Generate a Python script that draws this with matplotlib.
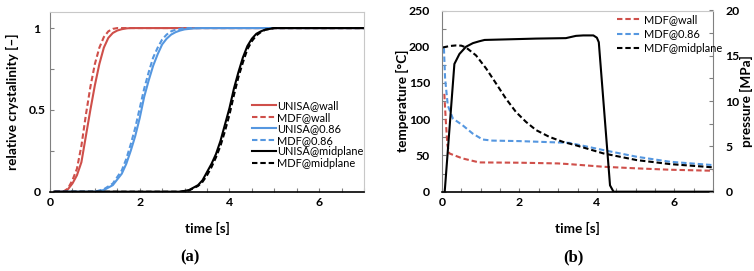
import matplotlib
matplotlib.use("Agg")
from matplotlib import pyplot as plt
from matplotlib.ticker import MultipleLocator

plt.rcParams['font.family'] = ['Lato', 'DejaVu Sans']

# ---- (a) relative crystallinity vs time ----
t_wall = [0.1, 0.3, 0.4, 0.5, 0.6, 0.7, 0.8, 0.9, 1.0, 1.1, 1.2, 1.3, 1.4, 1.5, 1.6, 1.7, 1.8, 7.0]
unisa_wall = [0, 0, 0.015, 0.05, 0.1, 0.18, 0.34, 0.50, 0.65, 0.78, 0.88, 0.94, 0.97, 0.985, 0.993, 0.998, 1.0, 1.0]
mdf_wall = [0, 0, 0.02, 0.07, 0.14, 0.28, 0.47, 0.64, 0.78, 0.88, 0.945, 0.98, 0.995, 1.0, 1.0, 1.0, 1.0, 1.0]

t_086 = [0.1, 1.0, 1.2, 1.4, 1.6, 1.7, 1.8, 1.9, 2.0, 2.1, 2.2, 2.3, 2.4, 2.5, 2.6, 2.7, 2.8, 2.9, 3.0, 3.2, 3.4, 7.0]
unisa_086 = [0, 0, 0.01, 0.04, 0.11, 0.17, 0.25, 0.34, 0.45, 0.58, 0.68, 0.77, 0.84, 0.90, 0.935, 0.96, 0.975, 0.985, 0.992, 0.998, 1.0, 1.0]
mdf_086 = [0, 0, 0.015, 0.05, 0.13, 0.20, 0.29, 0.39, 0.51, 0.63, 0.73, 0.82, 0.88, 0.93, 0.96, 0.98, 0.99, 0.995, 1.0, 1.0, 1.0, 1.0]

t_mid = [0.1, 2.9, 3.1, 3.3, 3.4, 3.5, 3.6, 3.7, 3.8, 3.9, 4.0, 4.1, 4.2, 4.3, 4.4, 4.5, 4.6, 4.7, 4.8, 5.0, 7.0]
unisa_mid = [0, 0, 0.01, 0.04, 0.07, 0.12, 0.17, 0.23, 0.31, 0.41, 0.51, 0.63, 0.73, 0.82, 0.89, 0.935, 0.965, 0.98, 0.99, 1.0, 1.0]
mdf_mid = [0, 0, 0.008, 0.035, 0.06, 0.10, 0.15, 0.21, 0.28, 0.37, 0.47, 0.59, 0.70, 0.79, 0.87, 0.92, 0.955, 0.975, 0.99, 1.0, 1.0]

# ---- (b) temperature [C] and pressure [MPa] vs time ----
t_T_wall = [0.06, 0.1, 0.14, 0.19, 0.53, 0.96, 2.0, 3.0, 3.3, 4.17, 5.03, 5.89, 7.0]
T_wall = [135, 96, 64, 52.8, 45.9, 40.4, 40, 39, 38, 34.4, 32.2, 30.3, 28.9]

t_T_086 = [0.05, 0.08, 0.15, 0.28, 0.53, 0.79, 1.05, 1.3, 2.0, 3.29, 4.17, 5.03, 5.89, 7.0]
T_086 = [198, 156, 119, 101, 91.8, 80.3, 72, 70.5, 69.8, 67.4, 57.4, 48.2, 41.3, 36.7]

t_T_mid = [0.02, 0.2, 0.36, 0.5, 0.62, 0.88, 1.14, 1.40, 1.65, 1.91, 2.17, 2.43, 2.77, 3.12, 3.46, 4.17, 5.03, 5.89, 7.0]
T_mid = [199, 201, 201.8, 201.5, 199, 188, 170, 149, 128.5, 110, 96.3, 85, 75.7, 68.8, 64, 52.8, 43.6, 38.1, 33.6]

t_p = [0.07, 0.32, 0.45, 0.62, 0.8, 0.96, 1.1, 2.0, 2.43, 3.2, 3.46, 3.65, 3.91, 4.0, 4.05, 4.34, 4.43, 7.0]
pressure = [0.0, 14.1, 15.2, 16.0, 16.4, 16.6, 16.75, 16.85, 16.9, 16.95, 17.2, 17.25, 17.25, 17.0, 16.5, 0.7, 0.0, 0.0]

red = '#cf4f4a'
blue = '#5597e0'
lw = 1.5
dash = (2.6, 1.4)
tick_fs = 8.8
label_fs = 9.8

fig = plt.figure(figsize=(7.54, 2.71), dpi=100)
W, H = 754, 271


def style(ax, spines_grey=('top', 'right')):
    for s in ax.spines.values():
        s.set_linewidth(0.8)
    ax.spines['left'].set_color('#808080')
    ax.spines['bottom'].set_color('black')
    ax.spines['bottom'].set_linewidth(1.2)
    for s in spines_grey:
        ax.spines[s].set_color('#c8c8c8')
    ax.tick_params(which='both', direction='in', length=3, width=0.8, color='#808080',
                   labelsize=tick_fs)
    for lab in ax.get_xticklabels() + ax.get_yticklabels():
        lab.set_fontweight('bold')


# panel (a)
ax1 = fig.add_axes([50 / W, 1 - 191.7 / H, 314 / W, 180 / H])
ax1.plot(t_wall, unisa_wall, color=red, lw=lw, label='UNISA@wall')
ax1.plot(t_wall, mdf_wall, color=red, lw=lw, ls=(0, dash), label='MDF@wall')
ax1.plot(t_086, unisa_086, color=blue, lw=lw, label='UNISA@0.86')
ax1.plot(t_086, mdf_086, color=blue, lw=lw, ls=(0, dash), label='MDF@0.86')
ax1.plot(t_mid, unisa_mid, color='black', lw=lw, label='UNISA@midplane')
ax1.plot(t_mid, mdf_mid, color='black', lw=lw, ls=(0, dash), label='MDF@midplane')
ax1.set_xlim(0, 7)
ax1.set_ylim(0, 1.1)
ax1.xaxis.set_major_locator(MultipleLocator(2))
ax1.xaxis.set_minor_locator(MultipleLocator(0.5))
ax1.yaxis.set_major_locator(MultipleLocator(0.5))
ax1.yaxis.set_minor_locator(MultipleLocator(0.25))
ax1.set_yticks([0, 0.5, 1], ['0', '0.5', '1'])
style(ax1)
ax1.tick_params(axis='y', pad=9.4)
ax1.tick_params(axis='x', pad=4)
for lab in ax1.get_yticklabels():
    lab.set_horizontalalignment('center')
ax1.set_ylabel('relative crystalinity [–]', fontweight='bold', fontsize=label_fs, va='center')
ax1.yaxis.set_label_coords(-0.118, 0.5)
ax1.set_xlabel('time [s]', fontweight='bold', fontsize=label_fs, va='center')
ax1.xaxis.set_label_coords(0.5, -0.2017)
ax1.legend(loc='upper left', bbox_to_anchor=(0.642, 0.509), frameon=False, fontsize=7.9,
           handlelength=2.2, handletextpad=0.15, labelspacing=0.05, borderpad=0, borderaxespad=0)

# panel (b)
ax2 = fig.add_axes([442 / W, 1 - 191.7 / H, 271 / W, 181.2 / H])
ax2.plot(t_T_wall, T_wall, color=red, lw=lw, ls=(0, dash), label='MDF@wall')
ax2.plot(t_T_086, T_086, color=blue, lw=lw, ls=(0, dash), label='MDF@0.86')
ax2.plot(t_T_mid, T_mid, color='black', lw=lw, ls=(0, dash), label='MDF@midplane')
ax2.set_xlim(0, 7)
ax2.set_ylim(0, 250)
ax2.xaxis.set_major_locator(MultipleLocator(2))
ax2.xaxis.set_minor_locator(MultipleLocator(0.5))
ax2.yaxis.set_major_locator(MultipleLocator(50))
ax2.yaxis.set_minor_locator(MultipleLocator(25))
style(ax2, spines_grey=('top',))
ax2.spines['right'].set_color('#808080')
ax2.tick_params(axis='y', pad=8.6)
ax2.tick_params(axis='x', pad=4)
ax2.set_ylabel('temperature [°C]', fontweight='bold', fontsize=label_fs, va='center')
ax2.yaxis.set_label_coords(-0.144, 0.5)
ax2.set_xlabel('time [s]', fontweight='bold', fontsize=label_fs, va='center')
ax2.xaxis.set_label_coords(0.5, -0.2003)
ax2.legend(loc='upper left', bbox_to_anchor=(0.645, 0.98), frameon=False, fontsize=7.9,
           handlelength=2.3, handletextpad=0.2, labelspacing=0.3, borderpad=0, borderaxespad=0)

ax3 = ax2.twinx()
ax3.plot(t_p, pressure, color='black', lw=lw)
ax3.set_ylim(0, 20)
ax3.yaxis.set_major_locator(MultipleLocator(5))
ax3.yaxis.set_minor_locator(MultipleLocator(2.5))
for s in ax3.spines.values():
    s.set_visible(False)
ax3.tick_params(which='both', direction='in', length=3, width=0.8, color='#808080',
                labelsize=tick_fs, pad=9)
for lab in ax3.get_yticklabels():
    lab.set_fontweight('bold')
ax3.set_ylabel('pressure [MPa]', fontweight='bold', fontsize=label_fs, va='center', rotation=90)
ax3.yaxis.set_label_coords(1.124, 0.5)

fig.text(190 / W, 1 - 257 / H, '(a)', ha='center', va='center', family='Liberation Serif',
         fontweight='bold', fontsize=12)
fig.text(573.7 / W, 1 - 257 / H, '(b)', ha='center', va='center', family='Liberation Serif',
         fontweight='bold', fontsize=12)

fig.savefig('out.png', dpi=100)
